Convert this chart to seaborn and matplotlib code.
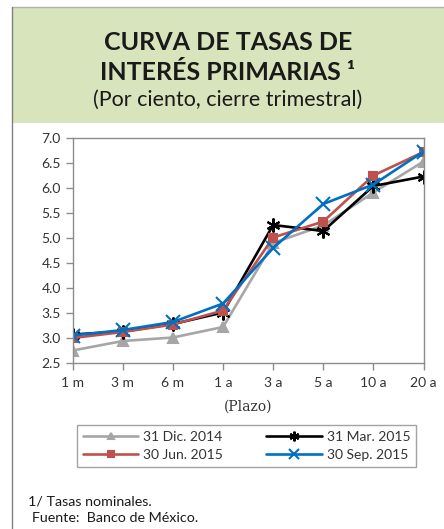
import matplotlib
matplotlib.use("Agg")
import matplotlib.pyplot as plt
import seaborn as sns
import pandas as pd
from matplotlib.patches import Rectangle
from matplotlib.lines import Line2D

plazos = ["1 m", "3 m", "6 m", "1 a", "3 a", "5 a", "10 a", "20 a"]
series_names = ["31 Dic. 2014", "31 Mar. 2015", "30 Jun. 2015", "30 Sep. 2015"]
dic_2014 = [2.75, 2.94, 3.01, 3.22, 4.90, 5.25, 5.91, 6.53]
mar_2015 = [3.07, 3.13, 3.28, 3.51, 5.26, 5.14, 6.04, 6.23]
jun_2015 = [3.00, 3.12, 3.27, 3.55, 5.01, 5.33, 6.25, 6.72]
sep_2015 = [3.05, 3.16, 3.32, 3.69, 4.80, 5.68, 6.07, 6.73]
y_ticks = [2.5, 3.0, 3.5, 4.0, 4.5, 5.0, 5.5, 6.0, 6.5, 7.0]

values = [dic_2014, mar_2015, jun_2015, sep_2015]
colors = ["#a6a6a6", "#000000", "#c0504d", "#0070c0"]
markers = ["^", (6, 2, 0), "s", "x"]
msizes = [7, 10, 6, 10]

rows = []
for name, vals in zip(series_names, values):
    for i, v in enumerate(vals):
        rows.append({"serie": name, "pos": i, "tasa": v})
df = pd.DataFrame(rows)

sns.set_theme(style="white")
plt.rcParams["font.family"] = ["Lato", "DejaVu Sans"]

fig = plt.figure(figsize=(4.44, 5.29), dpi=100)

# outer frame and header
fig.patches.append(Rectangle((12 / 444, 1 - 123 / 529), 1, (123 - 7) / 529,
                             transform=fig.transFigure, facecolor="#d8e4bc",
                             edgecolor="none", zorder=0))
fig.add_artist(Line2D([12 / 444, 1], [1 - 7 / 529, 1 - 7 / 529],
                      transform=fig.transFigure, color="#b0b0b0", lw=1))
fig.add_artist(Line2D([12 / 444, 12 / 444], [0, 1 - 7 / 529],
                      transform=fig.transFigure, color="#808080", lw=1))

fig.text(228 / 444, 1 - 42 / 529, "CURVA DE TASAS DE", ha="center", va="center",
         fontsize=18, fontweight="bold", color="#1a1a1a")
fig.text(228 / 444, 1 - 72 / 529, "INTERÉS PRIMARIAS ¹", ha="center", va="center",
         fontsize=18, fontweight="bold", color="#1a1a1a")
fig.text(228 / 444, 1 - 100 / 529, "(Por ciento, cierre trimestral)", ha="center",
         va="center", fontsize=15.5, color="#1a1a1a")

ax = fig.add_axes([72.7 / 444, 1 - 363 / 529, (423.5 - 72.7) / 444, (363 - 138) / 529])

for name, col, mk, ms in zip(series_names, colors, markers, msizes):
    sub = df[df["serie"] == name]
    sns.lineplot(data=sub, x="pos", y="tasa", ax=ax, color=col, marker=mk,
                 markersize=ms, markeredgecolor=col, markeredgewidth=1.5,
                 linewidth=1.9, label=name)

ax.set_xlim(0, len(plazos) - 1)
ax.set_ylim(2.5, 7.0)
ax.set_yticks(y_ticks)
ax.set_yticklabels([f"{t:.1f}" for t in y_ticks])
ax.set_xticks(range(len(plazos)))
ax.set_xticklabels(plazos)
ax.set_xlabel("(Plazo)", fontsize=10, family=["DejaVu Serif"], color="#333333", labelpad=8)
ax.set_ylabel("")
for sp in ax.spines.values():
    sp.set_color("#8c8c8c")
    sp.set_linewidth(1)
ax.tick_params(axis="both", which="both", direction="out", length=5, width=1,
               color="#8c8c8c", labelsize=10, labelcolor="#333333",
               left=True, bottom=True)
ax.tick_params(axis="x", pad=5)

handles, labels = ax.get_legend_handles_labels()
ax.legend_.remove()
order = [0, 2, 1, 3]
leg = fig.legend([handles[i] for i in order], [labels[i] for i in order],
                 ncol=2, loc="center",
                 bbox_to_anchor=(246.5 / 444, 1 - 446 / 529), fontsize=10,
                 frameon=True, fancybox=False, edgecolor="#8c8c8c",
                 handlelength=4.0, columnspacing=3.1, handletextpad=0.35,
                 borderpad=0.45, labelspacing=0.4, markerscale=0.7,
                 borderaxespad=0)
leg.get_frame().set_linewidth(1)
for t in leg.get_texts():
    t.set_color("#333333")

fig.text(28 / 444, 1 - 502 / 529, "1/ Tasas nominales.", ha="left", va="center",
         fontsize=10.3, color="#1a1a1a")
fig.text(32 / 444, 1 - 518 / 529, "Fuente:  Banco de México.", ha="left", va="center",
         fontsize=10.3, color="#1a1a1a")

fig.savefig("out.png", dpi=100)
